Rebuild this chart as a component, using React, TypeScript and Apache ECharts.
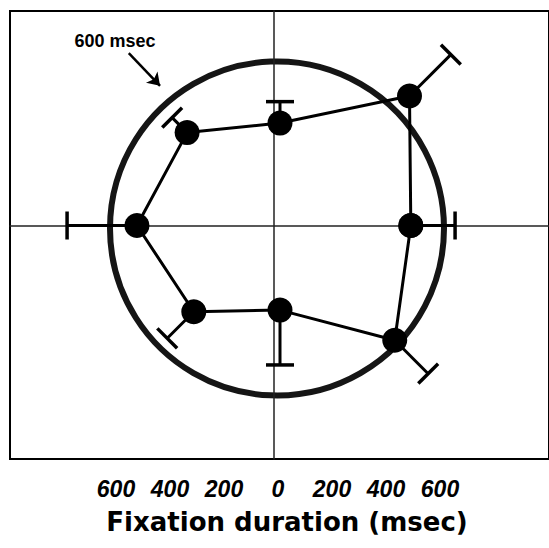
import React, { useEffect, useRef } from "react";
import * as echarts from "echarts";

// ---- data (msec, direction in degrees, 0 = right, counter-clockwise) ----
const angles = [0, 45, 90, 135, 180, 225, 270, 315];
const meanDurations = [470, 658, 368, 472, 514, 438, 304, 583];
const errorEnds = [629, 868, 445, 548, 765, 573, 501, 753];
const referenceRadius = [600];
const tickValues = [-600, -400, -200, 0, 200, 400, 600];
const arrowFrom = [-533, 619];
const arrowTo = [-418, 502];

// ---- layout ----
const W = 549;
const H = 548;
const K = 167 / 600; // px per msec
const CX = 280;
const CY = 225.5;
const CIRCLE_C = [277, 228.5];
const BOX = { left: 10, top: 11, right: 562, bottom: 459 };
const LABEL_K = 0.27;
const LABEL_CX = 278;

export default function App() {
  const ref = useRef<HTMLDivElement>(null);
  useEffect(() => {
    if (!ref.current) return;
    const chart = echarts.init(ref.current, undefined, { renderer: "svg" });

    const linePts = angles.map((a, i) => [meanDurations[i], a]);
    linePts.push(linePts[0]);
    const errData = angles.map((a, i) => [meanDurations[i], a, errorEnds[i]]);

    const labelHalf = 800;
    const labelWidth = labelHalf * 2 * LABEL_K;

    const hiddenAngle = (idx: number) => ({
      polarIndex: idx,
      type: "value",
      min: 0,
      max: 360,
      startAngle: 0,
      clockwise: false,
      axisLine: { show: false },
      axisTick: { show: false },
      axisLabel: { show: false },
      splitLine: { show: false },
    });

    const option: any = {
      animation: false,
      backgroundColor: "#fff",
      grid: [
        {
          left: BOX.left,
          top: BOX.top,
          right: W - BOX.right,
          bottom: H - BOX.bottom,
          show: true,
          borderColor: "#000",
          borderWidth: 2,
          backgroundColor: "transparent",
        },
        {
          left: LABEL_CX - labelWidth / 2,
          width: labelWidth,
          top: 468,
          height: 1,
        },
      ],
      xAxis: [
        {
          gridIndex: 0,
          type: "value",
          min: -(CX - BOX.left) / K,
          max: (BOX.right - CX) / K,
          axisLine: { show: true, onZero: true, lineStyle: { color: "#222", width: 1.5 } },
          axisTick: { show: false },
          axisLabel: { show: false },
          splitLine: { show: false },
        },
        {
          gridIndex: 1,
          type: "value",
          min: -labelHalf,
          max: labelHalf,
          interval: 200,
          axisLine: { show: false },
          axisTick: { show: false },
          splitLine: { show: false },
          axisLabel: {
            margin: 8,
            fontFamily: "Liberation Sans",
            fontWeight: "bold",
            fontStyle: "italic",
            fontSize: 23,
            color: "#000",
            formatter: (v: number) =>
              tickValues.indexOf(v) >= 0 ? String(Math.abs(v)) : "",
          },
        },
      ],
      yAxis: [
        {
          gridIndex: 0,
          type: "value",
          min: -(BOX.bottom - CY) / K,
          max: (CY - BOX.top) / K,
          axisLine: { show: true, onZero: true, lineStyle: { color: "#222", width: 1.5 } },
          axisTick: { show: false },
          axisLabel: { show: false },
          splitLine: { show: false },
        },
        {
          gridIndex: 1,
          type: "value",
          show: false,
        },
      ],
      polar: [
        { center: [CX, CY], radius: 900 * K },
        { center: CIRCLE_C, radius: referenceRadius[0] * K },
      ],
      radiusAxis: [
        {
          polarIndex: 0,
          min: 0,
          max: 900,
          axisLine: { show: false },
          axisTick: { show: false },
          axisLabel: { show: false },
          splitLine: { show: false },
        },
        {
          polarIndex: 1,
          min: 0,
          max: referenceRadius[0],
          interval: referenceRadius[0],
          axisLine: { show: false },
          axisTick: { show: false },
          axisLabel: { show: false },
          splitLine: { show: true, lineStyle: { color: "#151515", width: 6 } },
        },
      ],
      angleAxis: [hiddenAngle(0), hiddenAngle(1)],
      graphic: [
        {
          type: "text",
          x: 115,
          y: 41,
          style: {
            text: "600 msec",
            fontFamily: "Liberation Sans",
            fontWeight: "bold",
            fontSize: 18,
            fill: "#000",
            textAlign: "center",
            textVerticalAlign: "middle",
          },
        },
        {
          type: "text",
          x: 287,
          y: 522,
          style: {
            text: "Fixation duration (msec)",
            fontFamily: "DejaVu Sans",
            fontWeight: "bold",
            fontSize: 26,
            fill: "#000",
            textAlign: "center",
            textVerticalAlign: "middle",
          },
        },
      ],
      series: [
        {
          type: "custom",
          coordinateSystem: "polar",
          polarIndex: 0,
          encode: { radius: 0, angle: 1 },
          z: 2,
          data: errData,
          renderItem: (params: any, api: any) => {
            const r = api.value(0);
            const a = api.value(1);
            const e = api.value(2);
            const p0 = api.coord([r, a]);
            const p1 = api.coord([e, a]);
            const dx = p1[0] - p0[0];
            const dy = p1[1] - p0[1];
            const len = Math.sqrt(dx * dx + dy * dy) || 1;
            const nx = (-dy / len) * 14;
            const ny = (dx / len) * 14;
            return {
              type: "group",
              children: [
                {
                  type: "line",
                  shape: { x1: p0[0], y1: p0[1], x2: p1[0], y2: p1[1] },
                  style: { stroke: "#000", lineWidth: 3 },
                },
                {
                  type: "line",
                  shape: { x1: p1[0] - nx, y1: p1[1] - ny, x2: p1[0] + nx, y2: p1[1] + ny },
                  style: { stroke: "#000", lineWidth: 3.5 },
                },
              ],
            };
          },
        },
        {
          type: "line",
          coordinateSystem: "polar",
          polarIndex: 0,
          z: 3,
          data: linePts,
          symbol: "circle",
          symbolSize: 25,
          lineStyle: { color: "#000", width: 3 },
          itemStyle: { color: "#000" },
        },
        {
          type: "lines",
          coordinateSystem: "cartesian2d",
          xAxisIndex: 0,
          yAxisIndex: 0,
          symbol: ["none", "arrow"],
          symbolSize: 12,
          lineStyle: { color: "#000", width: 2.5, opacity: 1 },
          data: [{ coords: [arrowFrom, arrowTo] }],
        },
      ],
    };
    chart.setOption(option);
    return () => chart.dispose();
  }, []);

  return (
    <div
      ref={ref}
      style={{ position: "fixed", left: 0, top: 0, width: W, height: H }}
    />
  );
}
